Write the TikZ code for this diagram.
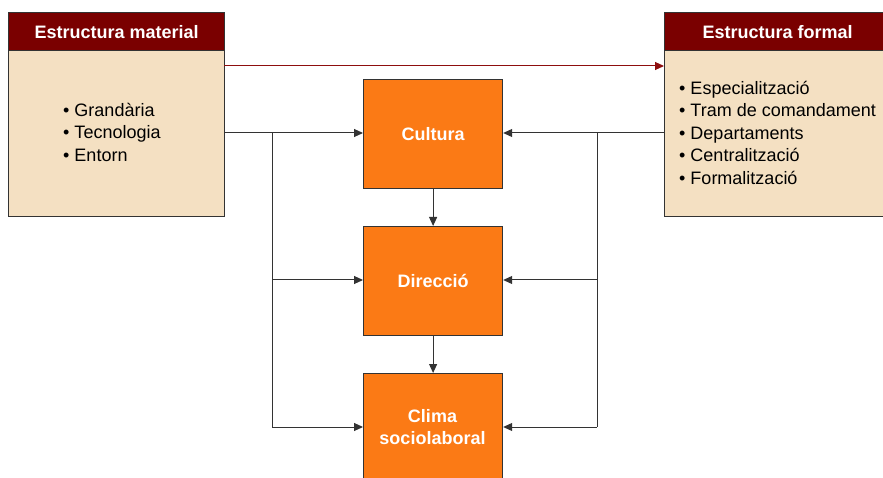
\documentclass[tikz,border=0pt]{standalone}
\usepackage{fontspec}
\setmainfont{Liberation Sans}
\usetikzlibrary{arrows.meta}
\definecolor{hdrred}{HTML}{7A0000}
\definecolor{beige}{HTML}{F4E0C2}
\definecolor{orng}{HTML}{FB7A15}
\definecolor{edge}{HTML}{333333}
\definecolor{linkred}{HTML}{8E0E0E}
\tikzset{
  hdr/.style={draw=edge, line width=1.2pt, fill=hdrred, anchor=north west, inner sep=0pt,
    text=white, font=\bfseries\fontsize{18}{21}\selectfont},
  body/.style={draw=edge, line width=1.2pt, fill=beige, anchor=north west, inner sep=0pt},
  block/.style={draw=edge, line width=1.2pt, fill=orng, anchor=north west, inner sep=0pt},
  blocktext/.style={text=white, align=center, inner sep=0pt, font=\bfseries\fontsize{18}{22}\selectfont},
  items/.style={align=left, anchor=north west, inner sep=0pt, font=\fontsize{18}{22.5}\selectfont},
  tip/.style={-{Triangle[length=9pt,width=8pt]}},
  link/.style={draw=edge, line width=1pt, tip},
  wire/.style={draw=edge, line width=1pt}
}
\begin{document}
\begin{tikzpicture}[x=1pt,y=-1pt]
\useasboundingbox (0,0) rectangle (883,478);
% left: material structure
\node[body, minimum width=216pt, minimum height=166pt] (matb) at (8,50) {};
\node[hdr, minimum width=216pt, minimum height=38pt] (math) at (8,12) {Estructura material};
\node[items] (matl) at (63,103) {• Grandària\\• Tecnologia\\• Entorn};
% right: formal structure
\node[body, minimum width=230pt, minimum height=166pt] (forb) at (664,50) {};
\node[hdr, minimum width=226pt, minimum height=38pt] (forh) at (664,12) {Estructura formal};
\node[items] (forl) at (679,81) {• Especialització\\• Tram de comandament\\• Departaments\\• Centralització\\• Formalització};
% central blocks
\node[block, minimum width=139pt, minimum height=109pt] (cul) at (363,79) {};
\node[blocktext] (cult) at (cul.center) {Cultura};
\node[block, minimum width=139pt, minimum height=109pt] (dir) at (363,226) {};
\node[blocktext] (dirt) at (dir.center) {Direcció};
\node[block, minimum width=139pt, minimum height=120pt] (cli) at (363,373) {};
\node[blocktext] (clit) at (432.5,427) {Clima\\sociolaboral};
% material -> formal
\coordinate (ma) at (224,66);
\coordinate (fa) at (664,66);
\draw[line width=1pt, draw=linkred, tip, color=linkred] (ma) -- (fa);
% left feeders
\coordinate (l0) at (224,133);
\coordinate (lj1) at (272,133);
\coordinate (lj2) at (272,280);
\coordinate (lj3) at (272,427);
\draw[wire] (l0) -- (lj1) -- (lj3);
\draw[link] (lj1) -- (cul.west |- lj1);
\draw[link] (lj2) -- (dir.west |- lj2);
\draw[link] (lj3) -- (cli.west |- lj3);
% right feeders
\coordinate (r0) at (664,133);
\coordinate (rj1) at (597,133);
\coordinate (rj2) at (597,280);
\coordinate (rj3) at (597,427);
\draw[wire] (r0) -- (rj1) -- (rj3);
\draw[link] (rj1) -- (cul.east |- rj1);
\draw[link] (rj2) -- (dir.east |- rj2);
\draw[link] (rj3) -- (cli.east |- rj3);
% vertical chain
\draw[link] (cul.south) -- (dir.north);
\draw[link] (dir.south) -- (cli.north);
\end{tikzpicture}
\end{document}
